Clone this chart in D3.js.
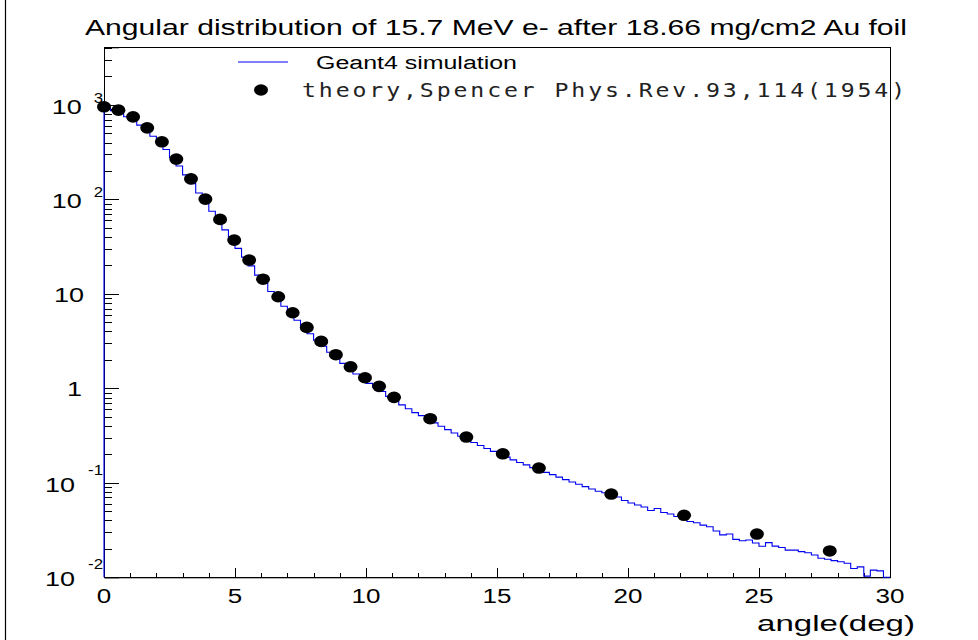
<!DOCTYPE html>
<html>
<head>
<meta charset="utf-8">
<script src="https://cdn.jsdelivr.net/npm/d3@7"></script>
<style>
  body { margin: 0; background: #fff; }
  svg { display: block; }
</style>
</head>
<body>
<svg id="chart" width="978" height="640"></svg>
<script>
// Geant4 histogram: 120 bins of 0.25 deg from 0 to 30 deg
const binStart = 0
const binWidth = 0.25
const simCounts = [933, 871, 813, 750, 692, 612, 541, 466, 400, 338,
  277, 226, 182, 147, 117, 93.3, 75.0, 60.0, 47.6, 37.8,
  30.3, 24.5, 19.8, 15.8, 12.9, 10.6, 8.85, 7.41, 6.21, 5.25,
  4.45, 3.79, 3.24, 2.79, 2.41, 2.09, 1.84, 1.61, 1.42, 1.26,
  1.13, 1.03, 0.925, 0.822, 0.735, 0.668, 0.608, 0.553, 0.514, 0.468,
  0.431, 0.397, 0.366, 0.337, 0.311, 0.288, 0.267, 0.248, 0.231, 0.215,
  0.200, 0.187, 0.175, 0.164, 0.155, 0.145, 0.136, 0.129, 0.122, 0.115,
  0.108, 0.102, 0.0966, 0.0912, 0.0861, 0.0813, 0.0785, 0.0743, 0.0708, 0.0650,
  0.0611, 0.0582, 0.0554, 0.0509, 0.0535, 0.0485, 0.0468, 0.0440, 0.0409, 0.0389,
  0.0378, 0.0357, 0.0343, 0.0309, 0.0281, 0.0287, 0.0252, 0.0244, 0.0248, 0.0231,
  0.0213, 0.0233, 0.0214, 0.0207, 0.0194, 0.0194, 0.0187, 0.0182, 0.0172, 0.0159,
  0.0155, 0.0150, 0.0146, 0.0141, 0.0124, 0.0129, 0.0103, 0.0119, 0.0117, 0]

// Spencer theory points
const theoryAngle = [0, 0.55, 1.11, 1.65, 2.21, 2.76, 3.32, 3.87, 4.43, 4.97,
  5.54, 6.07, 6.65, 7.2, 7.74, 8.29, 8.85, 9.41, 9.96, 10.5,
  11.07, 12.45, 13.83, 15.22, 16.6, 19.36, 22.14, 24.92, 27.7]
const theoryValue = [955, 881, 748, 572, 407, 267, 165, 100.7, 61.4, 37.1,
  22.8, 14.3, 9.32, 6.31, 4.42, 3.14, 2.27, 1.69, 1.295, 1.05,
  0.803, 0.477, 0.305, 0.203, 0.1434, 0.0761, 0.0453, 0.0287, 0.0190]

const xLabelValues = [0, 5, 10, 15, 20, 25, 30]
const yLabelValues = [0.01, 0.1, 1, 10, 100, 1000]
const yLabelBase = ["10", "10", "1", "10", "10", "10"]
const yLabelExp = ["-2", "-1", "", "", "2", "3"]

const titleText = "Angular distribution of 15.7 MeV e- after 18.66 mg/cm2 Au foil"
const simLabel = "Geant4 simulation"
const theoryLabel = "theory,Spencer Phys.Rev.93,114(1954)"
const xTitle = "angle(deg)"

const font = "'Liberation Sans', Arial, sans-serif"
const svg = d3.select("#chart")

const padL = 104, padR = 890, padT = 47.3, padB = 577.3
const x = d3.scaleLinear().domain([0, 30]).range([padL, padR])
const y = d3.scaleLog().domain([0.01, 4074]).range([padB, padT])

// ROOT output looks horizontally stretched, so widen glyphs a bit
function stretch(sel, k) {
    sel.each(function() {
        const w = this.getComputedTextLength()
        d3.select(this).attr("textLength", w * k).attr("lengthAdjust", "spacingAndGlyphs")
    })
}

// canvas edge line
svg.append("line").attr("x1", 5.5).attr("x2", 5.5).attr("y1", 0).attr("y2", 640)
    .attr("stroke", "#000").attr("stroke-width", 1.2)

// frame
svg.append("rect")
    .attr("x", padL).attr("y", padT)
    .attr("width", padR - padL).attr("height", padB - padT)
    .attr("fill", "none").attr("stroke", "#000").attr("stroke-width", 1)
    .attr("shape-rendering", "crispEdges")

// y axis ticks (inside)
let yMinor = []
for (let e = -2; e <= 3; e++) {
    for (let k = 2; k <= 9; k++) {
        const v = k * Math.pow(10, e)
        if (v <= y.domain()[1]) yMinor.push(v)
    }
}
const yAxisMajor = d3.axisLeft(y).tickValues(yLabelValues).tickSize(-15).tickFormat("")
const yAxisMinor = d3.axisLeft(y).tickValues(yMinor).tickSize(-8).tickFormat("")
svg.append("g").attr("transform", `translate(${padL},0)`).call(yAxisMinor)
    .call(g => g.select(".domain").remove())
svg.append("g").attr("transform", `translate(${padL},0)`).call(yAxisMajor)
    .call(g => g.select(".domain").attr("stroke", "#000"))

// x axis ticks (inside)
const xAxisMajor = d3.axisBottom(x).tickValues(xLabelValues).tickSize(-9).tickFormat("")
const xAxisMinor = d3.axisBottom(x).tickValues(d3.range(0, 31, 1)).tickSize(-4.5).tickFormat("")
svg.append("g").attr("transform", `translate(0,${padB})`).call(xAxisMinor)
    .call(g => g.select(".domain").remove())
svg.append("g").attr("transform", `translate(0,${padB})`).call(xAxisMajor)
    .call(g => g.select(".domain").attr("stroke", "#000"))
svg.selectAll(".tick line").attr("stroke", "#000").attr("shape-rendering", "crispEdges")

// histogram as a step line
const ymin = y.domain()[0]
const yOf = v => v > ymin ? y(v) : padB
let pts = [[x(binStart), padB]]
simCounts.forEach((v, i) => {
    const lo = binStart + i * binWidth
    pts.push([x(lo), yOf(v)])
    pts.push([x(lo + binWidth), yOf(v)])
})
pts.push([x(binStart + simCounts.length * binWidth), padB])
svg.append("path")
    .attr("d", d3.line()(pts))
    .attr("fill", "none").attr("stroke", "#0000f0").attr("stroke-width", 1.1)

// theory markers
svg.append("g").selectAll("ellipse")
    .data(theoryAngle)
    .enter().append("ellipse")
    .attr("cx", d => x(d))
    .attr("cy", (d, i) => y(theoryValue[i]))
    .attr("rx", 7).attr("ry", 5.8)
    .attr("fill", "#000")

// y labels
yLabelValues.forEach((v, i) => {
    const yy = y(v)
    if (yLabelExp[i] !== "") {
        const neg = yLabelExp[i].startsWith("-")
        const ex = svg.append("text")
            .attr("x", 103).attr("y", yy - (neg ? 13 : 7))
            .attr("text-anchor", "end").attr("dominant-baseline", "central")
            .style("font-family", font).style("font-size", "14px")
            .text(yLabelExp[i])
        stretch(ex, 1.2)
        const w = ex.node().getComputedTextLength() * 1.2
        const base = svg.append("text")
            .attr("x", 103 - w - 10).attr("y", yy + 2)
            .attr("text-anchor", "end").attr("dominant-baseline", "central")
            .style("font-family", font).style("font-size", "20px")
            .text(yLabelBase[i])
        stretch(base, 1.35)
    } else {
        const base = svg.append("text")
            .attr("x", yLabelBase[i] === "1" ? 82 : 84).attr("y", yy + 1)
            .attr("text-anchor", "end").attr("dominant-baseline", "central")
            .style("font-family", font).style("font-size", "20px")
            .text(yLabelBase[i])
        stretch(base, 1.35)
    }
})

// x labels
svg.append("g").selectAll("text")
    .data(xLabelValues)
    .enter().append("text")
    .attr("x", d => x(d)).attr("y", 603)
    .attr("text-anchor", "middle")
    .style("font-family", font).style("font-size", "20px")
    .text(d => d)
    .call(s => stretch(s, 1.3))

// x title
svg.append("text")
    .attr("x", 915).attr("y", 631)
    .attr("text-anchor", "end")
    .style("font-family", font).style("font-size", "22px")
    .attr("textLength", 158).attr("lengthAdjust", "spacingAndGlyphs")
    .text(xTitle)

// title
svg.append("text")
    .attr("x", 496).attr("y", 35)
    .attr("text-anchor", "middle")
    .style("font-family", font).style("font-size", "22px")
    .attr("textLength", 822).attr("lengthAdjust", "spacingAndGlyphs")
    .text(titleText)

// legend
svg.append("line")
    .attr("x1", 238).attr("x2", 288).attr("y1", 62).attr("y2", 62)
    .attr("stroke", "#0000f0").attr("stroke-width", 1.1)
svg.append("text")
    .attr("x", 316).attr("y", 69)
    .style("font-family", font).style("font-size", "18px")
    .attr("textLength", 201).attr("lengthAdjust", "spacingAndGlyphs")
    .text(simLabel)
svg.append("ellipse")
    .attr("cx", 261).attr("cy", 90).attr("rx", 7).attr("ry", 5.8)
    .attr("fill", "#000")
svg.append("text")
    .attr("x", 302).attr("y", 97)
    .style("font-family", "'DejaVu Sans Mono', monospace").style("font-size", "20px")
    .style("letter-spacing", "2.5px")
    .attr("fill", "#222")
    .attr("textLength", 606).attr("lengthAdjust", "spacingAndGlyphs")
    .text(theoryLabel)
</script>
</body>
</html>
